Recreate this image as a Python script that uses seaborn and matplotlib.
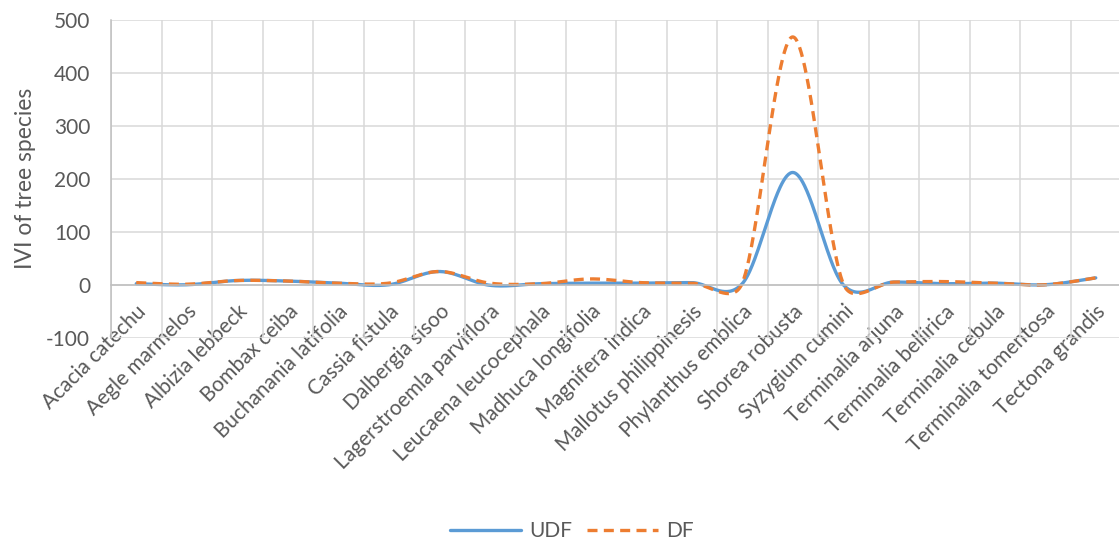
import numpy as np
import pandas as pd
import matplotlib
matplotlib.use("Agg")
import matplotlib.pyplot as plt
import seaborn as sns

# Tree species and their importance value index (IVI) in the two forest types
species = [
    "Acacia catechu", "Aegle marmelos", "Albizia lebbeck", "Bombax ceiba",
    "Buchanania latifolia", "Cassia fistula", "Dalbergia sisoo",
    "Lagerstroemla parviflora", "Leucaena leucocephala", "Madhuca longifolia",
    "Magnifera indica", "Mallotus philippinesis", "Phylanthus emblica",
    "Shorea robusta", "Syzygium cumini", "Terminalia arjuna",
    "Terminalia bellirica", "Terminalia cebula", "Terminalia tomentosa",
    "Tectona grandis",
]
udf = [2, 0, 8, 7, 3, 0, 25, -1, 2, 3, 3, 4, 2, 212, 0, 5, 2, 3, 0, 13]
df_vals = [4, 1, 8, 7, 3, 3, 25, 3, 2, 11, 4, 3, 3, 468, 2, 5, 6, 3, 0, 13]
y_ticks = [-100, 0, 100, 200, 300, 400, 500]

BLUE = "#5B9BD5"
ORANGE = "#ED7D31"
TEXT = "#595959"

# pixel size of one category step and one IVI unit, used for the smoothing arms
PX_PER_CAT = 50.5
PX_PER_UNIT = 0.528


def smooth_curve(values, steps=60):
    """Bezier smoothing through the points; each control arm is a sixth of the
    neighbour chord, capped at half the length of its own segment."""
    scale = np.array([PX_PER_CAT, PX_PER_UNIT])
    pts = np.column_stack([np.arange(len(values), dtype=float), np.asarray(values, float)]) * scale
    padded = np.vstack([pts[0], pts, pts[-1]])
    out = []
    n = len(pts)
    for i in range(n - 1):
        p0, p1, p2, p3 = padded[i], padded[i + 1], padded[i + 2], padded[i + 3]
        half = np.linalg.norm(p2 - p1) / 2.0
        arm1 = (p2 - p0) / 6.0
        arm2 = (p3 - p1) / 6.0
        for arm in (arm1, arm2):
            length = np.linalg.norm(arm)
            if length > half:
                arm *= half / length
        c1 = p1 + arm1
        c2 = p2 - arm2
        t = np.linspace(0, 1, steps, endpoint=(i == n - 2))[:, None]
        seg = ((1 - t) ** 3) * p1 + 3 * ((1 - t) ** 2) * t * c1 + 3 * (1 - t) * t ** 2 * c2 + t ** 3 * p2
        out.append(seg)
    out = np.vstack(out) / scale
    return out[:, 0], out[:, 1]


sns.set_theme(style="white")
plt.rcParams["font.family"] = ["Lato", "DejaVu Sans"]

fig = plt.figure(figsize=(11.19, 5.43), dpi=100)
ax = fig.add_axes([111 / 1119, 1 - 337.7 / 543, 1010 / 1119, 317.7 / 543])

for vals, name, color, ls in [
    (udf, "UDF", BLUE, "-"),
    (df_vals, "DF", ORANGE, (0, (3, 1.9))),
]:
    xs, ys = smooth_curve(vals)
    curve = pd.DataFrame({"x": xs, "y": ys})
    sns.lineplot(data=curve, x="x", y="y", ax=ax, color=color, linewidth=2.4,
                 linestyle=ls, label=name, estimator=None, sort=False)

ax.set_xlim(-0.5, len(species) - 0.5)
ax.set_ylim(-100, 500)
ax.set_yticks(y_ticks)
ax.set_yticklabels([str(v) for v in y_ticks])
ax.set_xticks(np.arange(len(species)))
ax.set_xticklabels(species)
ax.set_xticks(np.arange(len(species) + 1) - 0.5, minor=True)

ax.grid(axis="y", which="major", color="#D9D9D9", linewidth=1.1)
ax.grid(axis="x", which="minor", color="#D9D9D9", linewidth=1.1)
ax.grid(axis="x", which="major", visible=False)
ax.set_axisbelow(True)

for side in ["top", "right"]:
    ax.spines[side].set_visible(False)
ax.spines["left"].set_color("#BFBFBF")
ax.spines["left"].set_linewidth(1.1)
ax.spines["bottom"].set_position(("data", 0))
ax.spines["bottom"].set_color("#BFBFBF")
ax.spines["bottom"].set_linewidth(1.1)

ax.tick_params(axis="both", which="both", length=0, labelsize=15, colors=TEXT)
ax.tick_params(axis="y", pad=15)
ax.tick_params(axis="x", pad=12)

for lbl in ax.get_xticklabels():
    lbl.set_rotation(45)
    lbl.set_horizontalalignment("right")
    lbl.set_rotation_mode("anchor")

ax.set_xlabel("")
ax.set_ylabel("IVI of tree species", fontsize=16.5, color=TEXT)
ax.yaxis.set_label_coords(-0.074, 0.5)

handles, labels = ax.get_legend_handles_labels()
ax.get_legend().remove()
fig.legend(handles, labels, loc="center", bbox_to_anchor=(572 / 1119, 1 - 531 / 543),
           ncol=2, frameon=False, fontsize=15, labelcolor=TEXT,
           handlelength=3.4, handletextpad=0.4, columnspacing=0.7)

fig.savefig("out.png", dpi=100)
